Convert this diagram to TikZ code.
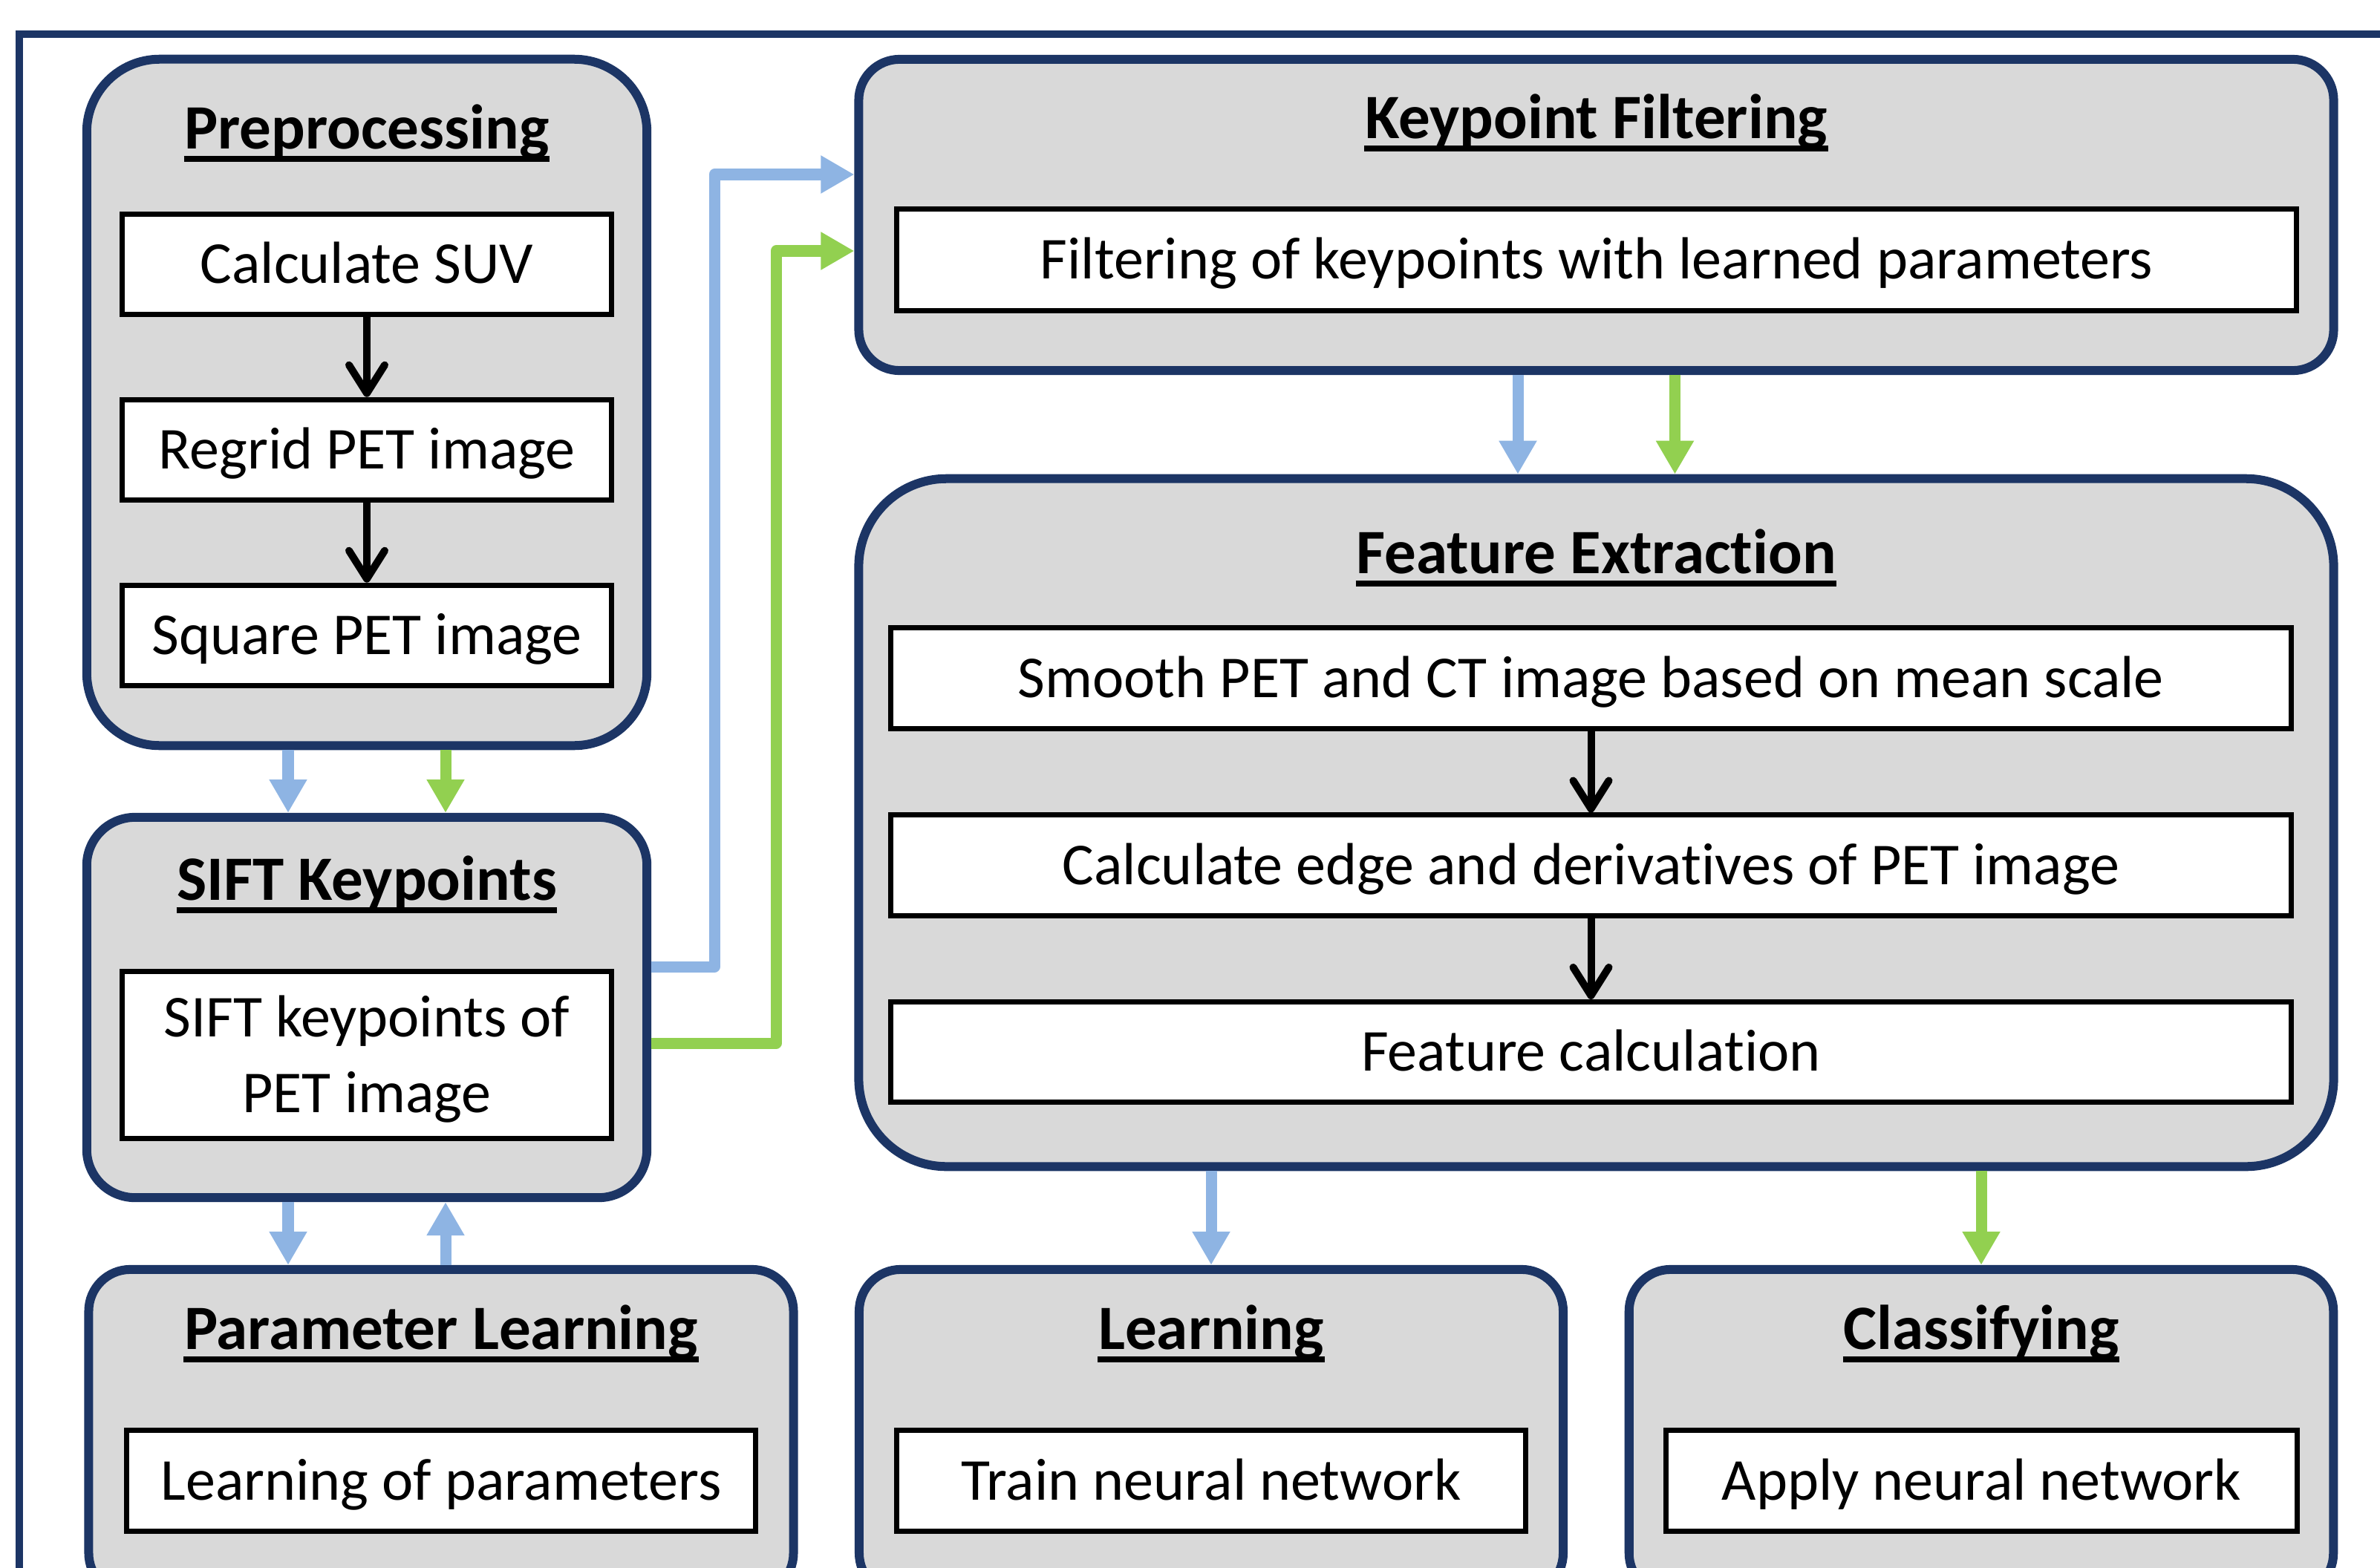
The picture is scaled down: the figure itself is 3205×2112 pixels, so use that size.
\documentclass[tikz,border=0pt]{standalone}
\usepackage{fontspec}
\setmainfont{Carlito}[Ligatures={NoCommon,NoRequired,NoContextual},Contextuals={NoAlternate}]
\usetikzlibrary{arrows.meta,shadows}
\definecolor{navy}{HTML}{1C3565}
\definecolor{boxgray}{HTML}{D9D9D9}
\definecolor{lblue}{HTML}{8EB4E3}
\definecolor{lgreen}{HTML}{92D050}
\newcommand{\nolig}{\kern0pt }
\begin{document}
\begin{tikzpicture}[x=0.01cm, y=-0.01cm,
  group/.style={draw=navy, fill=boxgray, line width=0.12cm, inner sep=0pt,
    drop shadow={shadow xshift=0.03cm, shadow yshift=-0.045cm, opacity=0.3, fill=black}},
  stepbox/.style={draw=black, fill=white, line width=0.07cm, inner sep=0pt,
    font=\fontsize{22.76pt}{29pt}\selectfont},
  oneline/.style={text height=0.515cm, text depth=0pt},
  heading/.style={inner sep=0pt, anchor=base, font=\fontsize{24.2pt}{30pt}\selectfont\bfseries},
  uline/.style={line width=0.08cm, black},
  blackarrow/.style={draw=black, line width=0.1cm, -{Straight Barb[length=0.38cm,width=0.48cm,round]}},
  barrow/.style={draw=lblue, line width=0.15cm, line join=round, -{Triangle[width=0.48cm,length=0.45cm]}},
  garrow/.style={draw=lgreen, line width=0.15cm, line join=round, -{Triangle[width=0.48cm,length=0.45cm]}},
]
\useasboundingbox (0,0) rectangle (3205,2112);
\clip (0,0) rectangle (3205,2112);

% outer frame
\draw[navy, line width=0.10cm] (26,2400) -- (26,46) -- (3400,46);

% Preprocessing
\node[group, rounded corners=0.98cm, minimum width=7.54cm, minimum height=9.24cm] (prep) at (494,542) {};
\node[heading] (prepT) at (494,200) {Preprocessing};
\draw[uline] ([yshift=-0.135cm]prepT.base west) -- ([yshift=-0.135cm]prepT.base east);
\node[stepbox, oneline, minimum width=6.59cm, minimum height=1.355cm] (suv) at (494,356) {Calculate SUV};
\node[stepbox, oneline, minimum width=6.59cm, minimum height=1.355cm] (regrid) at (494,606) {Regrid PET image};
\node[stepbox, oneline, minimum width=6.59cm, minimum height=1.355cm] (square) at (494,856) {Square PET image};
\draw[blackarrow] (suv) -- (regrid);
\draw[blackarrow] (regrid) -- (square);

% SIFT Keypoints
\node[group, rounded corners=0.65cm, minimum width=7.54cm, minimum height=5.12cm] (sift) at (494,1357) {};
\node[heading] (siftT) at (494,1212) {SIFT Keypoints};
\draw[uline] ([yshift=-0.135cm]siftT.base west) -- ([yshift=-0.135cm]siftT.base east);
\node[stepbox, minimum width=6.59cm, minimum height=2.24cm] (siftin) at (494,1421) {};
\node[inner sep=0pt, align=center, font=\fontsize{22.76pt}{29pt}\selectfont] (siftlbl) at (494,1427) {SIFT keypoints of\\PET image};

% Parameter Learning
\node[group, rounded corners=0.56cm, minimum width=9.485cm, minimum height=4.38cm] (param) at (594,1929) {};
\node[heading] (paramT) at (594,1817) {Parameter Learning};
\draw[uline] ([yshift=-0.135cm]paramT.base west) -- ([yshift=-0.135cm]paramT.base east);
\node[stepbox, oneline, minimum width=8.465cm, minimum height=1.35cm] (paramin) at (594,1994.5) {Learning of parameters};

% Learning
\node[group, rounded corners=0.56cm, minimum width=9.475cm, minimum height=4.38cm] (learn) at (1631,1929) {};
\node[heading] (learnT) at (1631,1817) {Learning};
\draw[uline] ([yshift=-0.135cm]learnT.base west) -- ([yshift=-0.135cm]learnT.base east);
\node[stepbox, oneline, minimum width=8.46cm, minimum height=1.35cm] (learnin) at (1631,1994.5) {Train neural network};

% Classifying
\node[group, rounded corners=0.56cm, minimum width=9.48cm, minimum height=4.38cm] (cls) at (2668,1929) {};
\node[heading] (clsT) at (2668,1817) {Classifying};
\draw[uline] ([yshift=-0.135cm]clsT.base west) -- ([yshift=-0.135cm]clsT.base east);
\node[stepbox, oneline, minimum width=8.49cm, minimum height=1.35cm] (clsin) at (2668.5,1994.5) {Apply neural network};

% Keypoint Filtering
\node[group, rounded corners=0.55cm, minimum width=19.85cm, minimum height=4.19cm] (kf) at (2149.5,289.5) {};
\node[heading] (kfT) at (2149.5,186) {Keypoint Filtering};
\draw[uline] ([yshift=-0.135cm]kfT.base west) -- ([yshift=-0.135cm]kfT.base east);
\node[stepbox, oneline, minimum width=18.84cm, minimum height=1.36cm] (kfin) at (2150,350) {Filtering of keypoints with learned parameters};

% Feature Extraction
\node[group, rounded corners=1.18cm, minimum width=19.85cm, minimum height=9.26cm] (fe) at (2149.5,1108) {};
\node[heading] (feT) at (2149.5,772) {Feature Extrac\nolig t\nolig ion};
\draw[uline] ([yshift=-0.135cm]feT.base west) -- ([yshift=-0.135cm]feT.base east);
\node[stepbox, oneline, minimum width=18.85cm, minimum height=1.35cm] (smooth) at (2142.5,913.5) {Smooth PET and CT image based on mean scale};
\node[stepbox, oneline, minimum width=18.85cm, minimum height=1.35cm] (edge) at (2142.5,1165.5) {Calculate edge and deriva\nolig t\nolig ives of PET image};
\node[stepbox, oneline, minimum width=18.85cm, minimum height=1.35cm] (feat) at (2142.5,1417) {Feature calcula\nolig t\nolig ion};
\draw[blackarrow] (smooth) -- (edge);
\draw[blackarrow] (edge) -- (feat);

% connectors
\coordinate (cA) at (388,0);
\coordinate (cB) at (600,0);
\draw[barrow] (prep.south -| cA) -- (sift.north -| cA);
\draw[garrow] (prep.south -| cB) -- (sift.north -| cB);
\draw[barrow] (sift.south -| cA) -- (param.north -| cA);
\draw[barrow] (param.north -| cB) -- (sift.south -| cB);

\coordinate (bY1) at (0,1302);
\coordinate (bX) at (962,0);
\coordinate (bY2) at (0,235);
\draw[barrow] (sift.east |- bY1) -| (bX |- bY2) -- (kf.west |- bY2);
\coordinate (gY1) at (0,1405);
\coordinate (gX) at (1045,0);
\coordinate (gY2) at (0,338);
\draw[garrow] (sift.east |- gY1) -| (gX |- gY2) -- (kf.west |- gY2);

\coordinate (kX1) at (2044,0);
\coordinate (kX2) at (2255.5,0);
\draw[barrow] (kf.south -| kX1) -- (fe.north -| kX1);
\draw[garrow] (kf.south -| kX2) -- (fe.north -| kX2);

\draw[barrow] (fe.south -| learn.north) -- (learn.north);
\draw[garrow] (fe.south -| cls.north) -- (cls.north);
\end{tikzpicture}
\end{document}
